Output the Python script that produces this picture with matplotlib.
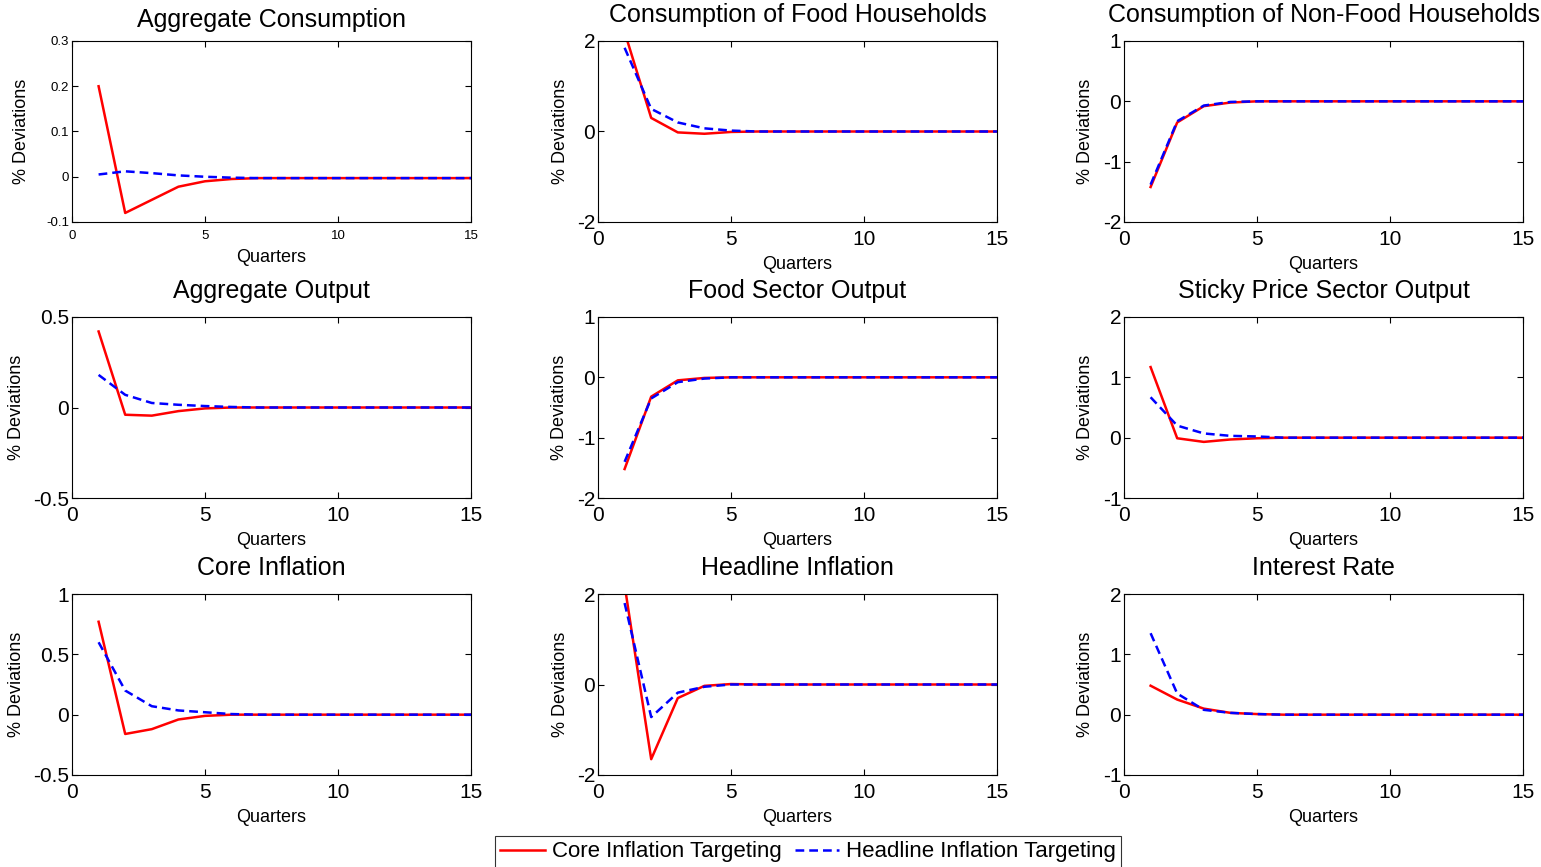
import matplotlib
matplotlib.use("Agg")
import matplotlib.pyplot as plt

plt.rcParams['font.family'] = ['Liberation Sans', 'DejaVu Sans']

quarters = list(range(1, 16))
tail = [0.0] * 9

titles = ["Aggregate Consumption", "Consumption of Food Households",
          "Consumption of Non-Food Households", "Aggregate Output",
          "Food Sector Output", "Sticky Price Sector Output",
          "Core Inflation", "Headline Inflation", "Interest Rate"]

core_agg_cons = [0.2, -0.08, -0.051, -0.022, -0.01, -0.005] + [-0.003] * 9
head_agg_cons = [0.005, 0.012, 0.008, 0.003, 0.0, -0.002] + [-0.003] * 9
core_food_cons = [2.2, 0.3, -0.02, -0.05, -0.01, 0.0] + tail
head_food_cons = [1.85, 0.5, 0.2, 0.07, 0.02, 0.0] + tail
core_nonfood_cons = [-1.42, -0.35, -0.08, -0.02, 0.0, 0.0] + tail
head_nonfood_cons = [-1.38, -0.33, -0.07, -0.01, 0.0, 0.0] + tail
core_agg_out = [0.42, -0.04, -0.045, -0.02, -0.005, 0.0] + tail
head_agg_out = [0.18, 0.07, 0.025, 0.015, 0.008, 0.003] + tail
core_food_out = [-1.52, -0.32, -0.05, -0.01, 0.0, 0.0] + tail
head_food_out = [-1.4, -0.35, -0.08, -0.02, 0.0, 0.0] + tail
core_sticky_out = [1.17, -0.01, -0.07, -0.03, -0.01, 0.0] + tail
head_sticky_out = [0.67, 0.2, 0.07, 0.03, 0.02, 0.0] + tail
core_core_inf = [0.77, -0.16, -0.12, -0.04, -0.01, 0.0] + tail
head_core_inf = [0.6, 0.2, 0.07, 0.035, 0.02, 0.005] + tail
core_head_inf = [2.2, -1.65, -0.3, -0.03, 0.01, 0.0] + tail
head_head_inf = [1.8, -0.72, -0.18, -0.05, 0.0, 0.0] + tail
core_rate = [0.48, 0.25, 0.1, 0.03, 0.01, 0.0] + tail
head_rate = [1.35, 0.35, 0.08, 0.03, 0.01, 0.0] + tail

core_series = [core_agg_cons, core_food_cons, core_nonfood_cons, core_agg_out,
               core_food_out, core_sticky_out, core_core_inf, core_head_inf, core_rate]
head_series = [head_agg_cons, head_food_cons, head_nonfood_cons, head_agg_out,
               head_food_out, head_sticky_out, head_core_inf, head_head_inf, head_rate]

ylims = [(-0.1, 0.3), (-2, 2), (-2, 1), (-0.5, 0.5), (-2, 1), (-1, 2),
         (-0.5, 1), (-2, 2), (-1, 2)]
yticks = [[-0.1, 0, 0.1, 0.2, 0.3], [-2, 0, 2], [-2, -1, 0, 1], [-0.5, 0, 0.5],
          [-2, -1, 0, 1], [-1, 0, 1, 2], [-0.5, 0, 0.5, 1], [-2, 0, 2], [-1, 0, 1, 2]]
ytick_labels = [["-0.1", "0", "0.1", "0.2", "0.3"], ["-2", "0", "2"],
                ["-2", "-1", "0", "1"], ["-0.5", "0", "0.5"], ["-2", "-1", "0", "1"],
                ["-1", "0", "1", "2"], ["-0.5", "0", "0.5", "1"], ["-2", "0", "2"],
                ["-1", "0", "1", "2"]]

fig = plt.figure(figsize=(15.41, 8.67), dpi=100)

lefts = [72 / 1541, 598 / 1541, 1124 / 1541]
bottoms = [1 - 222 / 867, 1 - 498 / 867, 1 - 775 / 867]
w = 399 / 1541
h = 181 / 867

lines = []
for i in range(9):
    r, c = divmod(i, 3)
    ax = fig.add_axes([lefts[c], bottoms[r], w, h])
    l1, = ax.plot(quarters, core_series[i], color='red', lw=1.8, zorder=2)
    l2, = ax.plot(quarters, head_series[i], color='blue', lw=1.8,
                  ls=(0, (3.5, 2)), zorder=3)
    lines = [l1, l2]
    ax.set_xlim(0, 15)
    ax.set_ylim(*ylims[i])
    ax.set_xticks([0, 5, 10, 15])
    ax.set_yticks(yticks[i])
    ax.set_yticklabels(ytick_labels[i])
    small = (i == 0)
    ax.tick_params(direction='in', top=True, right=True, length=4,
                   labelsize=9.5 if small else 15, colors='black')
    ax.tick_params(axis='x', pad=5.5)
    ax.tick_params(axis='y', pad=2)
    for sp in ax.spines.values():
        sp.set_linewidth(0.8)
    ax.set_title(titles[i], fontsize=18, pad=10 if small else 14)
    ax.set_xlabel("Quarters", fontsize=13, labelpad=5)
    ax.set_ylabel("% Deviations", fontsize=13, labelpad=12 if small else 6)

leg = fig.legend(lines, ["Core Inflation Targeting", "Headline Inflation Targeting"],
                 loc='lower center', bbox_to_anchor=(808 / 1541, -0.014), ncol=2,
                 fontsize=16, frameon=True, fancybox=False, edgecolor='black',
                 handlelength=2.0, handletextpad=0.3, columnspacing=0.6,
                 borderpad=0.25)
leg.get_frame().set_linewidth(0.8)

fig.savefig("out.png", dpi=100)
